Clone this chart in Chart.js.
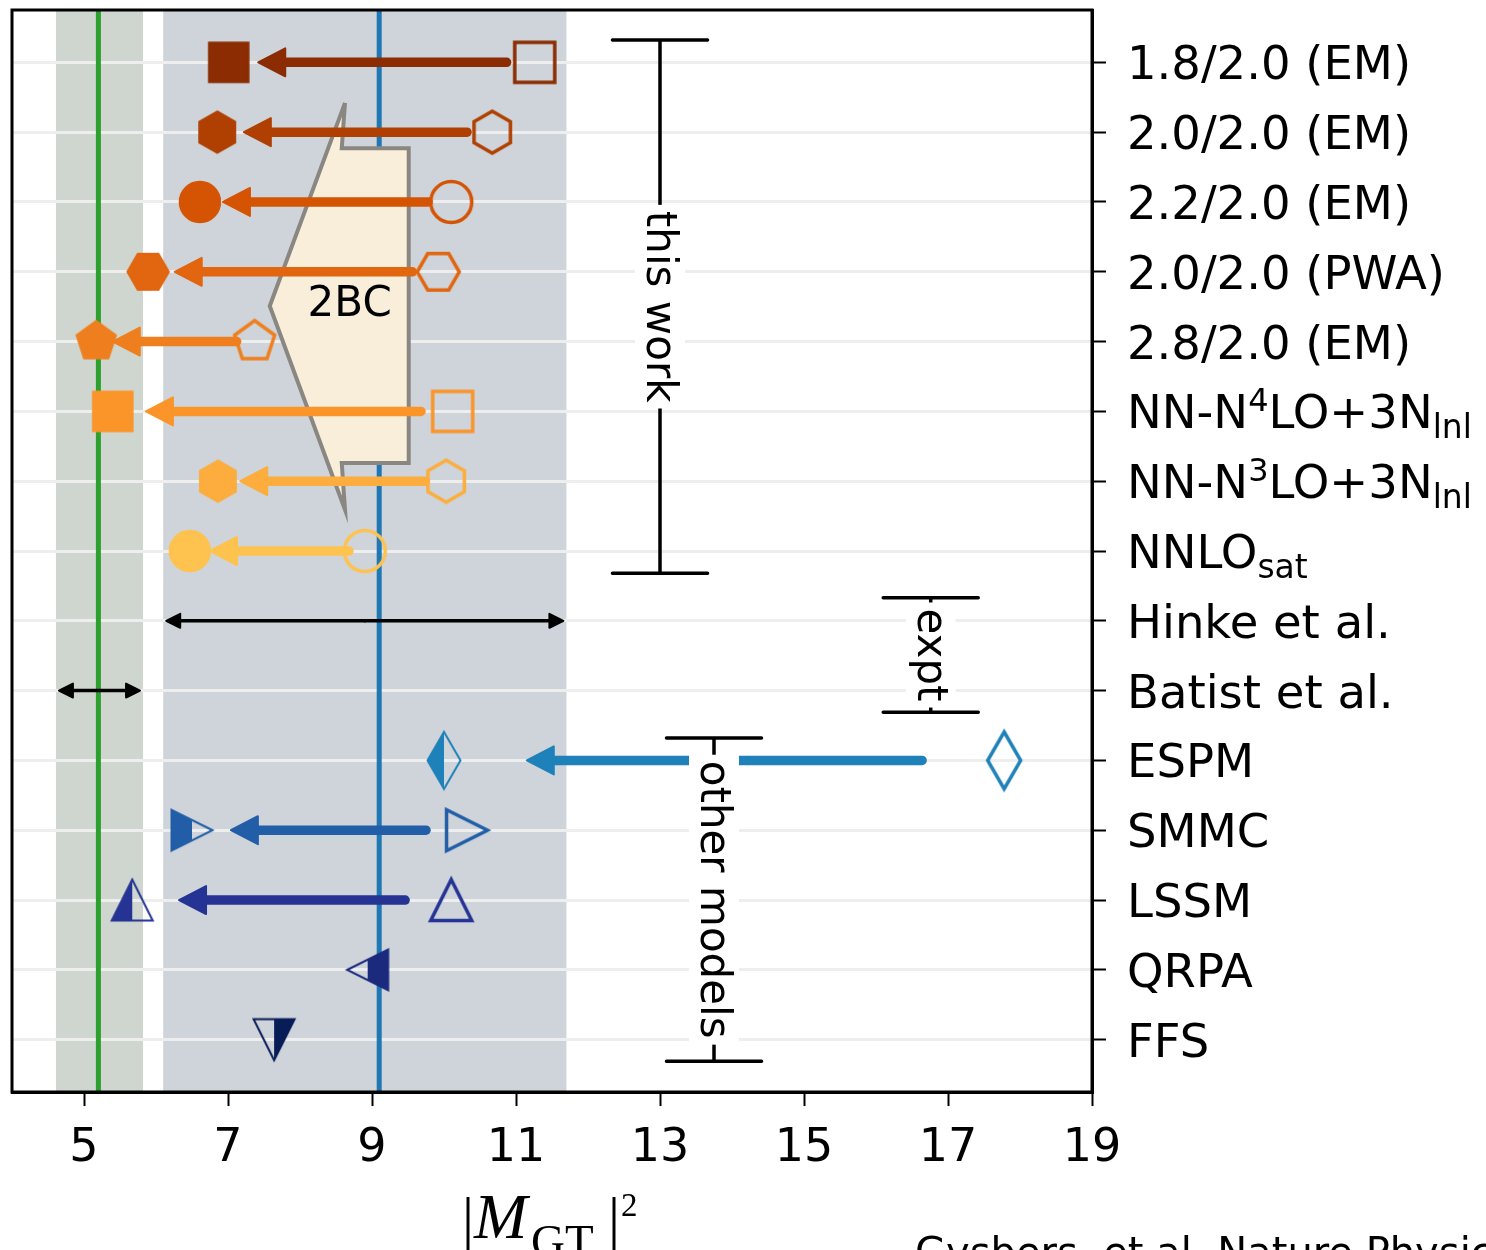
<!DOCTYPE html>
<html>
<head>
<meta charset="utf-8">
<script src="https://cdn.jsdelivr.net/npm/chart.js@4.4.0/dist/chart.umd.min.js"></script>
<style>
    html, body { margin: 0; padding: 0; background: #fff; }
    #wrap { width: 1486px; height: 1250px; }
</style>
</head>
<body>
<div id="wrap"><canvas id="myChart" width="1486" height="1250"></canvas></div>
<script>
// rows, top to bottom (^{..} superscript, _{..} subscript)
var rowLabels = ["1.8/2.0 (EM)", "2.0/2.0 (EM)", "2.2/2.0 (EM)", "2.0/2.0 (PWA)", "2.8/2.0 (EM)",
    "NN-N^{4}LO+3N_{lnl}", "NN-N^{3}LO+3N_{lnl}", "NNLO_{sat}", "Hinke et al.", "Batist et al.",
    "ESPM", "SMMC", "LSSM", "QRPA", "FFS"];

// |M_GT|^2 without two-body currents (open markers)
var withoutTBC = [11.26, 10.67, 10.10, 9.92, 7.37, 10.12, 10.03, 8.90, null, null, 17.78, 10.32, 10.10, null, null];
// |M_GT|^2 with two-body currents / quenched (filled markers)
var withTBC = [7.01, 6.85, 6.61, 5.89, 5.17, 5.40, 6.86, 6.47, null, null, 10.00, 6.50, 5.67, 8.94, 7.64];
// arrow tail / tip
var arrowFrom = [10.87, 10.32, 9.78, 9.56, 7.12, 9.68, 9.74, 8.68, null, null, 16.64, 9.75, 9.46, null, null];
var arrowTo = [7.42, 7.22, 6.93, 6.26, 5.40, 5.86, 7.17, 6.75, null, null, 11.15, 7.04, 6.32, null, null];

// experiments
var exptRows = [8, 9];
var exptCentral = [9.1, 5.2];
var exptLow = [6.1, 4.61];
var exptHigh = [11.7, 5.82];

// group brackets
var groupLabels = ["this work", "expt", "other models"];
var groupX = [13.0, 16.76, 13.75];
var groupFrom = [-0.32, 7.67, 9.68];
var groupTo = [7.32, 9.31, 14.31];

// 2BC shape
var tbcShapeX = [8.625, 8.58, 9.51, 9.51, 8.58, 8.625, 7.58, 8.625];
var tbcShapeY = [0.58, 1.23, 1.23, 5.74, 5.74, 6.41, 3.49, 0.58];

var xTicks = [5, 7, 9, 11, 13, 15, 17, 19];

var colors = ["#8b2c02", "#b04002", "#d55404", "#e2650f", "#ef7f1e", "#fb9429", "#fcad3d", "#fec24f",
    "#000", "#000", "#1f81b9", "#225ea8", "#253494", "#1c2a7e", "#081d58"];
var shapes = ["square", "hexagon", "circle", "hexagon2", "pentagon", "square", "hexagon", "circle",
    null, null, "diamond", "triRight", "triUp", "triLeft", "triDown"];
var fills = ["full", "full", "full", "full", "full", "full", "full", "full",
    null, null, "left", "left", "left", "right", "right"];

function regular(n, r, startDeg) {
    var pts = [];
    for (var k = 0; k < n; k++) {
        var a = (startDeg + k * 360 / n) * Math.PI / 180;
        pts.push([r * Math.cos(a), r * Math.sin(a)]);
    }
    return pts;
}

function shapePath(ctx, shape) {
    ctx.beginPath();
    if (shape === "circle") {
        ctx.arc(0, 0, 20.5, 0, Math.PI * 2);
        return;
    }
    var s = 20.5, pts;
    if (shape === "square") pts = [[-20, -20], [20, -20], [20, 20], [-20, 20]];
    else if (shape === "hexagon") pts = regular(6, 21, -90);
    else if (shape === "hexagon2") pts = regular(6, 21, 0);
    else if (shape === "pentagon") pts = regular(5, 21, -90);
    else if (shape === "diamond") pts = [[0, -28.5], [16.5, 0], [0, 28.5], [-16.5, 0]];
    else if (shape === "triUp") pts = [[0, -s], [s, s], [-s, s]];
    else if (shape === "triDown") pts = [[0, s], [s, -s], [-s, -s]];
    else if (shape === "triRight") pts = [[s, 0], [-s, -s], [-s, s]];
    else pts = [[-s, 0], [s, -s], [s, s]];
    ctx.moveTo(pts[0][0], pts[0][1]);
    for (var k = 1; k < pts.length; k++) ctx.lineTo(pts[k][0], pts[k][1]);
    ctx.closePath();
}

function makeMarker(shape, color, fill) {
    var c = document.createElement("canvas");
    c.width = 72;
    c.height = 72;
    var ctx = c.getContext("2d");
    ctx.translate(36, 36);
    ctx.strokeStyle = color;
    ctx.fillStyle = color;
    ctx.lineJoin = "miter";
    if (fill === "full") {
        shapePath(ctx, shape);
        ctx.fill();
        ctx.lineWidth = 1.5;
        ctx.stroke();
    } else if (fill === "none") {
        shapePath(ctx, shape);
        ctx.lineWidth = 3.5;
        ctx.stroke();
    } else {
        ctx.save();
        ctx.beginPath();
        ctx.rect(fill === "left" ? -40 : 0, -40, 40, 80);
        ctx.clip();
        shapePath(ctx, shape);
        ctx.fill();
        ctx.restore();
        shapePath(ctx, shape);
        ctx.lineWidth = 2;
        ctx.stroke();
    }
    return c;
}

var openData = [], openStyles = [], fullData = [], fullStyles = [];
rowLabels.forEach(function (label, i) {
    if (withoutTBC[i] !== null) {
        openData.push({ x: withoutTBC[i], y: i });
        openStyles.push(makeMarker(shapes[i], colors[i], "none"));
    }
    if (withTBC[i] !== null) {
        fullData.push({ x: withTBC[i], y: i });
        fullStyles.push(makeMarker(shapes[i], colors[i], fills[i]));
    }
});

var tbcShape = tbcShapeX.map(function (x, k) { return { x: x, y: tbcShapeY[k] }; });

function arrow(ctx, x1, x2, y, color, lw, headLen, headHalf) {
    var dir = x2 < x1 ? 1 : -1;
    ctx.save();
    ctx.strokeStyle = color;
    ctx.fillStyle = color;
    ctx.lineWidth = lw;
    ctx.lineCap = "round";
    ctx.beginPath();
    ctx.moveTo(x1, y);
    ctx.lineTo(x2 + dir * (headLen - 2), y);
    ctx.stroke();
    ctx.lineJoin = "round";
    ctx.lineWidth = 2;
    ctx.beginPath();
    ctx.moveTo(x2, y);
    ctx.lineTo(x2 + dir * headLen, y - headHalf);
    ctx.lineTo(x2 + dir * headLen, y + headHalf);
    ctx.closePath();
    ctx.fill();
    ctx.stroke();
    ctx.restore();
}

function richText(ctx, text, x, y, size) {
    var parts = text.split(/(\^\{[^}]*\}|_\{[^}]*\})/);
    parts.forEach(function (p) {
        if (!p) return;
        var t = p, fs = size, dy = 0;
        if (p[0] === "^") { t = p.slice(2, -1); fs = 32; dy = -17; }
        else if (p[0] === "_") { t = p.slice(2, -1); fs = 33; dy = 10; }
        ctx.font = fs + 'px "DejaVu Sans"';
        ctx.fillText(t, x, y + dy);
        x += ctx.measureText(t).width;
    });
}

var bandsPlugin = {
    id: "bands",
    beforeDraw: function (chart) {
        var ctx = chart.ctx, a = chart.chartArea, xs = chart.scales.x;
        ctx.save();
        var bandColors = ["#ced4d9", "#cfd6cf"];
        exptRows.forEach(function (r, k) {
            var l = xs.getPixelForValue(exptLow[k]), h = xs.getPixelForValue(exptHigh[k]);
            ctx.fillStyle = bandColors[k];
            ctx.fillRect(l, a.top, h - l, a.bottom - a.top);
        });
        ctx.restore();
    }
};

var notesPlugin = {
    id: "notes",
    afterDatasetsDraw: function (chart) {
        var ctx = chart.ctx, xs = chart.scales.x, ys = chart.scales.y;
        // 2BC label
        ctx.save();
        ctx.fillStyle = "#000";
        ctx.font = '42px "DejaVu Sans"';
        ctx.textAlign = "center";
        ctx.textBaseline = "middle";
        ctx.fillText("2BC", xs.getPixelForValue(8.69), ys.getPixelForValue(3.48));
        ctx.restore();

        // arrows
        rowLabels.forEach(function (label, i) {
            if (arrowFrom[i] === null) return;
            arrow(ctx, xs.getPixelForValue(arrowFrom[i]), xs.getPixelForValue(arrowTo[i]),
                ys.getPixelForValue(i), colors[i], 9.5, 27, 14);
        });

        // experimental ranges
        exptRows.forEach(function (r, k) {
            var y = ys.getPixelForValue(r);
            var l = xs.getPixelForValue(exptLow[k]) + 3, h = xs.getPixelForValue(exptHigh[k]) - 3;
            var mid = (l + h) / 2;
            arrow(ctx, mid, l, y, "#000", 3.5, 14, 7);
            arrow(ctx, mid, h, y, "#000", 3.5, 14, 7);
        });

        // brackets
        groupLabels.forEach(function (text, k) {
            var x = xs.getPixelForValue(groupX[k]);
            var y1 = ys.getPixelForValue(groupFrom[k]), y2 = ys.getPixelForValue(groupTo[k]);
            var cap = xs.getPixelForValue(groupX[k] + 0.66) - x;
            ctx.save();
            ctx.strokeStyle = "#000";
            ctx.lineWidth = 3.5;
            ctx.lineCap = "round";
            ctx.beginPath();
            ctx.moveTo(x, y1); ctx.lineTo(x, y2);
            ctx.moveTo(x - cap, y1); ctx.lineTo(x + cap, y1);
            ctx.moveTo(x - cap, y2); ctx.lineTo(x + cap, y2);
            ctx.stroke();
            ctx.translate(x, (y1 + y2) / 2);
            ctx.rotate(Math.PI / 2);
            ctx.font = '42px "DejaVu Sans"';
            var w = ctx.measureText(text).width;
            ctx.fillStyle = "#fff";
            ctx.fillRect(-w / 2 - 6, -25, w + 12, 50);
            ctx.fillStyle = "#000";
            ctx.textAlign = "center";
            ctx.textBaseline = "middle";
            ctx.fillText(text, 0, 2);
            ctx.restore();
        });
    },
    afterDraw: function (chart) {
        var ctx = chart.ctx, a = chart.chartArea, ys = chart.scales.y;
        ctx.save();
        ctx.strokeStyle = "#000";
        ctx.lineWidth = 3;
        ctx.strokeRect(a.left, a.top, a.right - a.left, a.bottom - a.top);

        // row labels
        ctx.fillStyle = "#000";
        ctx.textBaseline = "alphabetic";
        rowLabels.forEach(function (label, i) {
            richText(ctx, label, a.right + 35, ys.getPixelForValue(i) + 17, 46.5);
        });

        // axis title |M_GT|^2
        ctx.font = '60px "Liberation Serif"';
        ctx.fillText("|", 462, 1238);
        ctx.fillText("|", 608, 1238);
        ctx.font = 'italic 64px "Liberation Serif"';
        ctx.fillText("M", 474, 1238);
        ctx.font = '47px "Liberation Serif"';
        ctx.fillText("GT", 531, 1257);
        ctx.font = '33px "Liberation Serif"';
        ctx.fillText("2", 621, 1216);

        ctx.font = '40px "DejaVu Sans"';
        ctx.fillText("Gysbers, et al. Nature Physics 15, 428 (2019)", 915, 1266);
        ctx.restore();
    }
};

var ctx = document.getElementById("myChart");
new Chart(ctx, {
    type: "scatter",
    data: {
        datasets: [
            {
                label: "with 2BC",
                data: fullData,
                pointStyle: fullStyles,
                pointRadius: 21,
                showLine: false
            },
            {
                label: "without 2BC",
                data: openData,
                pointStyle: openStyles,
                pointRadius: 21,
                showLine: false
            },
            {
                label: "2BC",
                data: tbcShape,
                showLine: true,
                fill: "shape",
                tension: 0,
                borderColor: "#8a8782",
                backgroundColor: "#f8eed9",
                borderWidth: 4,
                borderJoinStyle: "miter",
                pointRadius: 0
            },
            {
                label: "Hinke",
                data: [{ x: exptCentral[0], y: -0.75 }, { x: exptCentral[0], y: 14.75 }],
                showLine: true,
                borderColor: "#1f77b4",
                borderWidth: 5,
                pointRadius: 0
            },
            {
                label: "Batist",
                data: [{ x: exptCentral[1], y: -0.75 }, { x: exptCentral[1], y: 14.75 }],
                showLine: true,
                borderColor: "#2ca02c",
                borderWidth: 5,
                pointRadius: 0
            }
        ]
    },
    options: {
        responsive: false,
        animation: false,
        events: [],
        layout: { autoPadding: false, padding: { left: 12, top: 10, right: 0, bottom: 0 } },
        plugins: {
            legend: { display: false },
            tooltip: { enabled: false }
        },
        scales: {
            x: {
                type: "linear",
                min: 4,
                max: 19,
                afterBuildTicks: function (axis) {
                    axis.ticks = xTicks.map(function (v) { return { value: v }; });
                },
                afterFit: function (axis) { axis.height = 158; },
                grid: {
                    drawOnChartArea: false,
                    drawTicks: true,
                    tickLength: 14,
                    tickColor: "#000",
                    tickWidth: 2
                },
                border: { color: "#000", width: 3 },
                ticks: {
                    color: "#000",
                    padding: 15,
                    maxRotation: 0,
                    font: { family: "DejaVu Sans", size: 46 }
                }
            },
            y: {
                type: "linear",
                position: "right",
                reverse: true,
                min: -0.75,
                max: 14.75,
                afterBuildTicks: function (axis) {
                    axis.ticks = rowLabels.map(function (l, i) { return { value: i }; });
                },
                afterFit: function (axis) { axis.width = 394; },
                grid: {
                    color: "#eeeeee",
                    lineWidth: 3,
                    drawTicks: true,
                    tickLength: 14,
                    tickColor: "#000",
                    tickWidth: 2
                },
                border: { color: "#000", width: 3 },
                ticks: { display: false }
            }
        }
    },
    plugins: [bandsPlugin, notesPlugin]
});
</script>
</body>
</html>
